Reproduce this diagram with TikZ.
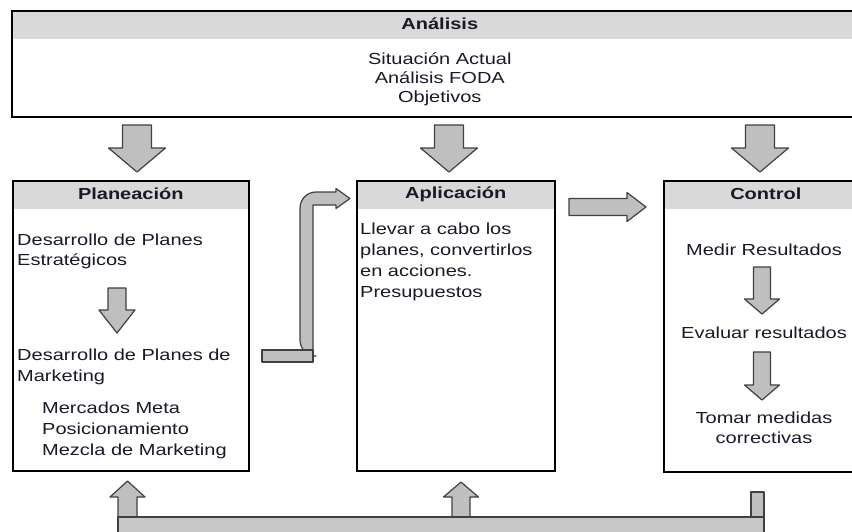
\documentclass[tikz,border=0pt]{standalone}
\usepackage{fontspec}
\setmainfont{Liberation Sans}[FakeStretch=1.25]
\usepackage{xcolor}
\usetikzlibrary{positioning, calc}
\definecolor{headgray}{RGB}{217,217,217}
\definecolor{txtcol}{RGB}{25,25,40}
\tikzset{
  panel/.style={rectangle, draw=black, line width=1.6pt, fill=white, inner sep=0pt,
    path picture={\fill[headgray] (path picture bounding box.north west) rectangle ([yshift=-28pt]path picture bounding box.north east);}},
  headtxt/.style={font=\fontsize{16}{20}\selectfont\bfseries, text=txtcol, inner sep=0pt},
  bodytxt/.style={font=\fontsize{16}{21}\selectfont, text=txtcol, inner sep=0pt},
  fatarrow/.style={draw=black!75, line width=1.2pt, fill=black!25, line join=round},
  bar/.style={draw=black!75, line width=1.2pt, fill=black!22}
}
% block arrow: tail, angle, length, shaft width, head width, head length
\newcommand{\blockarrow}[6]{%
  \draw[fatarrow, shift={#1}, rotate=#2] (0,{-#4/2}) -- ({#3-#6},{-#4/2}) -- ({#3-#6},{-#5/2})
    -- (#3,0) -- ({#3-#6},{#5/2}) -- ({#3-#6},{#4/2}) -- (0,{#4/2}) -- cycle;}
\begin{document}
\begin{tikzpicture}[x=1pt, y=1pt]
\useasboundingbox (0,0) rectangle (852,-531);
\clip (0,0) rectangle (852,-531);

% Top box
\node[panel, anchor=north west, minimum width=856pt, minimum height=106pt] (ana) at (11,-10) {};
\node[headtxt] (anah) at ([yshift=-14pt]ana.north) {Análisis};
\node[bodytxt, align=center] (anab) at ([yshift=-69pt]ana.north) {Situación Actual\\[-2pt]Análisis FODA\\[-2pt]Objetivos};

% Three boxes
\node[panel, anchor=north west, minimum width=236pt, minimum height=290pt] (plan) at (12,-180) {};
\node[panel, anchor=north west, minimum width=198pt, minimum height=290pt] (app) at (356,-180) {};
\node[panel, anchor=north west, minimum width=204pt, minimum height=291pt] (ctl) at (663,-180) {};
\node[headtxt] (planh) at ([yshift=-14pt]plan.north) {Planeación};
\node[headtxt] (apph) at ([yshift=-14pt]app.north) {Aplicación};
\node[headtxt] (ctlh) at ([yshift=-14pt]ctl.north) {Control};

% Planeacion
\node[bodytxt, align=left, anchor=north west] (p1) at (17,-234) {Desarrollo de Planes\\[-1pt]Estratégicos};
\node[bodytxt, align=left, anchor=north west] (p2) at (17,-349) {Desarrollo de Planes de\\Marketing};
\node[bodytxt, align=left, anchor=north west] (p3) at (42,-402) {Mercados Meta\\Posicionamiento\\Mezcla de Marketing};
\blockarrow{(117,-288)}{-90}{45}{18}{36}{23}

% Aplicacion
\node[bodytxt, align=left, anchor=north west] (a1) at (360,-223) {Llevar a cabo los\\planes, convertirlos\\en acciones.\\Presupuestos};

% Control
\node[bodytxt] (c1) at (764,-250) {Medir Resultados};
\node[bodytxt] (c2) at (764,-333) {Evaluar resultados};
\node[bodytxt, align=center] (c3) at (764,-428) {Tomar medidas\\[-1pt]correctivas};
\blockarrow{(762,-267)}{-90}{47}{17}{35}{15}
\blockarrow{(762,-352)}{-90}{48}{17}{35}{15}

% Arrows from top box
\blockarrow{(137,-125)}{-90}{47}{29}{57}{24}
\blockarrow{(449,-125)}{-90}{47}{29}{57}{24}
\blockarrow{(760,-125)}{-90}{47}{29}{57}{24}

% Aplicacion to Control
\blockarrow{(569,-207)}{0}{77}{17}{29}{19}

% Planeacion to Aplicacion (bent)
\draw[fatarrow] (313,-356) -- (313,-205) -- (336,-205) -- (336,-208.5) -- (350,-198.5) -- (336,-188.5)
  -- (336,-192) [rounded corners=16] -- (300,-192) -- (300,-356) [sharp corners] -- cycle;
\draw[fatarrow] (262,-350) rectangle (313,-362);

% Feedback bar
\blockarrow{(127.5,-517)}{90}{36}{19}{35}{16}
\blockarrow{(461,-517)}{90}{35}{18}{35}{15}
\draw[fatarrow] (751,-492) rectangle (764,-517);
\draw[bar] (118,-517) rectangle (764,-545);
\end{tikzpicture}
\end{document}
